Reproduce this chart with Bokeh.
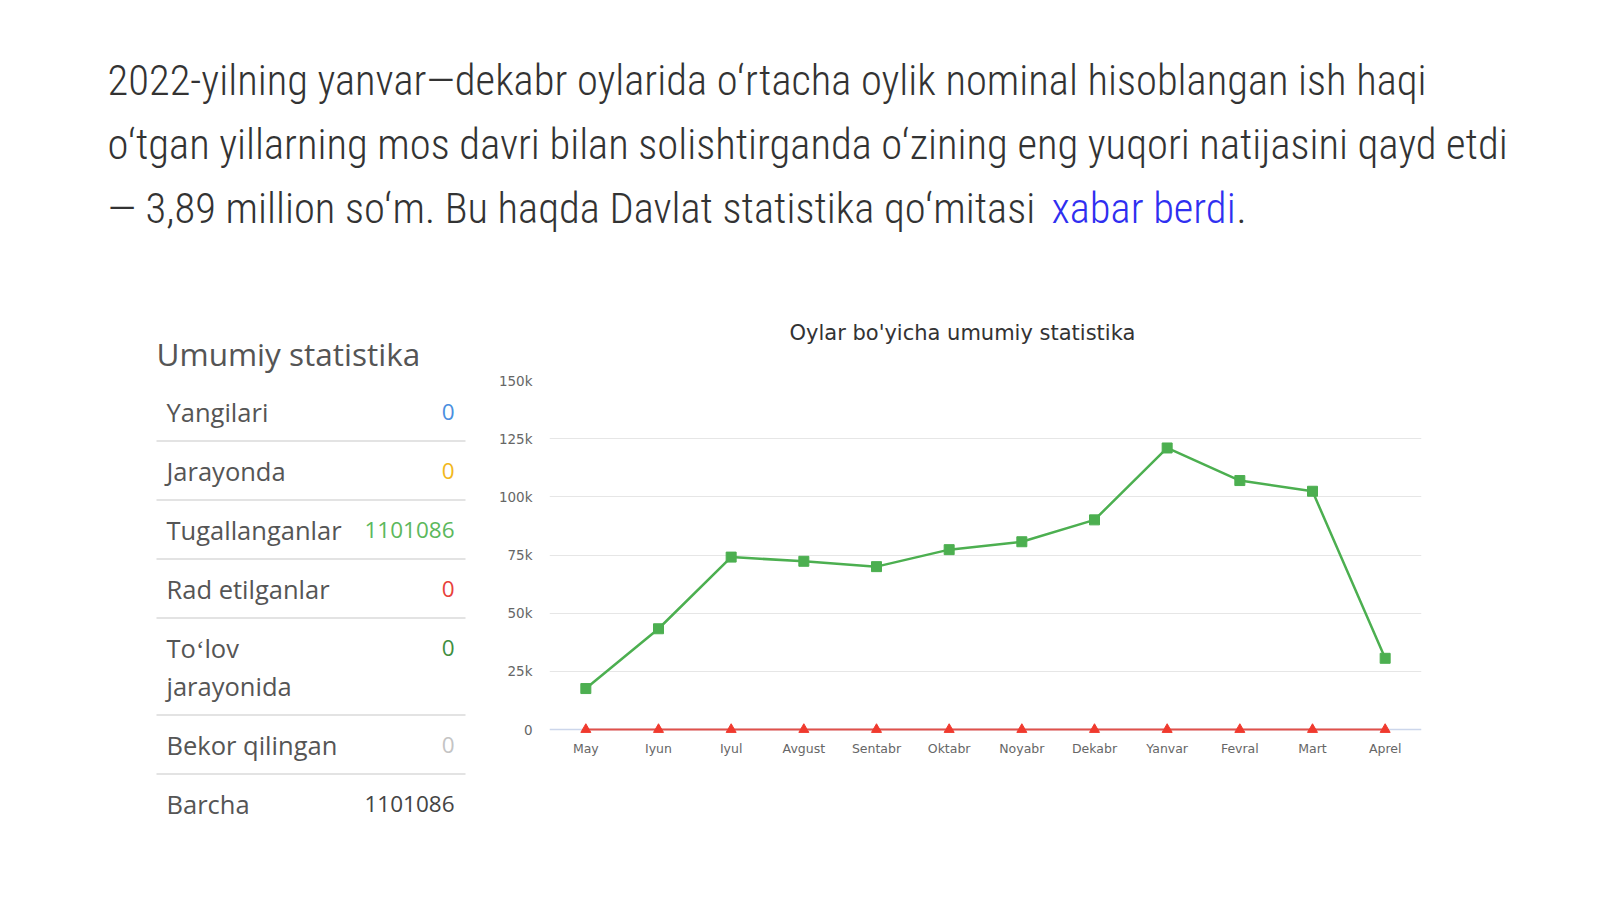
from bokeh.plotting import figure
from bokeh.layouts import column, row
from bokeh.models import Range1d, FixedTicker, ColumnDataSource, Span
from bokeh.core.properties import value
from bokeh.embed import file_html
from bokeh.resources import INLINE

# ---------------- data ----------------
months = ["May", "Iyun", "Iyul", "Avgust", "Sentabr", "Oktabr", "Noyabr",
          "Dekabr", "Yanvar", "Fevral", "Mart", "Aprel"]
completed = [17600, 43300, 74100, 72300, 70000, 77300, 80700, 90100,
             121000, 107000, 102400, 30600]
rejected = [0, 0, 0, 0, 0, 0, 0, 0, 0, 0, 0, 0]
y_ticks = [0, 25000, 50000, 75000, 100000, 125000, 150000]
y_tick_labels = ["0", "25k", "50k", "75k", "100k", "125k", "150k"]
chart_title = "Oylar bo'yicha umumiy statistika"

stat_title = "Umumiy statistika"
stat_labels = ["Yangilari", "Jarayonda", "Tugallanganlar", "Rad etilganlar",
               "To\u02bblov\njarayonida", "Bekor qilingan", "Barcha"]
stat_values = ["0", "0", "1101086", "0", "0", "0", "1101086"]
stat_colors = ["#4a8fe0", "#f2b81c", "#5cb85c", "#e8413a", "#3f8f3f",
               "#c4c4c4", "#444444"]

para_lines = [
    "2022-yilning yanvar\u2014dekabr oylarida o\u02bbrtacha oylik nominal hisoblangan ish haqi",
    "o\u02bbtgan yillarning mos davri bilan solishtirganda o\u02bbzining eng yuqori natijasini qayd etdi",
    "\u2014 3,89 million so\u02bbm. Bu haqda Davlat statistika qo\u02bbmitasi",
]
para_link = "xabar berdi"

PARA_FONT = "Roboto Condensed Light, Roboto Condensed, Liberation Sans Narrow, Roboto"
TABLE_FONT = "Open Sans"
CHART_FONT = "DejaVu Sans"
PARA_SIZE = "42.6px"

# ---------------- top paragraph ----------------
W = 1600
TOP_H = 285
top = figure(width=W, height=TOP_H, x_range=Range1d(0, W),
             y_range=Range1d(TOP_H, 0), output_backend="svg",
             toolbar_location=None, min_border=0)
top.axis.visible = False
top.grid.visible = False
top.outline_line_color = None
ys = [79 + 64 * i for i in range(len(para_lines))]
top.text(x=[107] * len(para_lines), y=ys, text=para_lines,
         text_font=value(PARA_FONT), text_font_size=PARA_SIZE,
         text_color="#333333", text_baseline="middle", text_align="left")
top.text(x=[1051], y=[ys[2]], text=[para_link],
         text_font=value(PARA_FONT), text_font_size=PARA_SIZE,
         text_color="#2f2ff0", text_baseline="middle", text_align="left")
top.text(x=[1051 + 185], y=[ys[2]], text=["."],
         text_font=value(PARA_FONT), text_font_size=PARA_SIZE,
         text_color="#333333", text_baseline="middle", text_align="left")

# ---------------- stats table ----------------
BOT_H = 899 - TOP_H
TAB_W = 488
tab = figure(width=TAB_W, height=BOT_H, x_range=Range1d(0, TAB_W),
             y_range=Range1d(BOT_H, 0), output_backend="svg",
             toolbar_location=None, min_border=0)
tab.axis.visible = False
tab.grid.visible = False
tab.outline_line_color = None
tab.text(x=[156], y=[68], text=[stat_title], text_font=value(TABLE_FONT),
         text_font_size="31.5px", text_color="#555555",
         text_baseline="middle", text_align="left")

pitch, extra = 59, 38
top_y = 96.5
lab_y, val_y, seps, lab_text = [], [], [], []
for i, lab in enumerate(stat_labels):
    parts = lab.split("\n")
    h = pitch + extra * (len(parts) - 1)
    for j, part in enumerate(parts):
        lab_text.append(part)
        lab_y.append(top_y + pitch / 2 + extra * j)
    val_y.append(top_y + pitch / 2)
    top_y += h
    if i < len(stat_labels) - 1:
        seps.append(top_y)

tab.text(x=[166] * len(lab_text), y=lab_y, text=lab_text,
         text_font=value(TABLE_FONT), text_font_size="25.5px",
         text_color="#555555", text_baseline="middle", text_align="left")
tab.text(x=[454] * len(stat_values), y=val_y, text=stat_values,
         text_color=stat_colors, text_font=value(TABLE_FONT),
         text_font_size="22.5px", text_baseline="middle", text_align="right")
tab.segment(x0=[156] * len(seps), x1=[465] * len(seps), y0=seps, y1=seps,
            line_color="#e3e3e3", line_width=2)

# ---------------- chart ----------------
CH_W = W - TAB_W
p = figure(width=CH_W, height=BOT_H, x_range=months,
           y_range=Range1d(-1715, 150000), output_backend="svg",
           toolbar_location=None, min_border_left=61, min_border_right=179,
           min_border_top=94, min_border_bottom=166)
p.outline_line_color = None
p.title.text = chart_title
p.title.align = "left"
p.title.offset = 240
p.title.text_font = CHART_FONT
p.title.text_font_size = "21px"
p.title.text_font_style = "normal"
p.title.text_color = "#333333"
p.title.vertical_align = "middle"
p.title.standoff = 69

p.yaxis.ticker = FixedTicker(ticks=y_ticks)
p.yaxis.major_label_overrides = dict(zip(y_ticks, y_tick_labels))
p.yaxis.axis_line_color = None
p.yaxis.major_tick_line_color = None
p.yaxis.minor_tick_line_color = None
p.yaxis.major_tick_out = 0
p.yaxis.major_label_standoff = 17
p.yaxis.major_label_text_font = CHART_FONT
p.yaxis.major_label_text_font_size = "13.5px"
p.yaxis.major_label_text_color = "#666666"

p.xaxis.axis_line_color = None
p.xaxis.major_tick_line_color = None
p.xaxis.minor_tick_line_color = None
p.xaxis.major_tick_out = 0
p.xaxis.major_label_standoff = 7
p.xaxis.major_label_text_font = CHART_FONT
p.xaxis.major_label_text_font_size = "12.5px"
p.xaxis.major_label_text_color = "#666666"

p.xgrid.grid_line_color = None
p.ygrid.ticker = FixedTicker(ticks=y_ticks[1:-1])
p.ygrid.grid_line_color = "#e6e6e6"
p.ygrid.grid_line_width = 1

# baseline of the category axis, drawn at zero under the series
p.add_layout(Span(location=0, dimension="width", line_color="#ccd6eb",
                  line_width=1.5, level="underlay"))

src = ColumnDataSource(dict(m=months, c=completed, r=rejected))
p.line("m", "c", source=src, line_color="#4caf50", line_width=2.5)
p.scatter("m", "c", source=src, marker="square", size=10,
          fill_color="#4caf50", line_color="#4caf50")
p.line("m", "r", source=src, line_color="#e0514a", line_width=2)
p.scatter("m", "r", source=src, marker="triangle", size=10,
          fill_color="#f03a2e", line_color="#f03a2e")

layout = column(top, row(column(tab), p))
open("out.html", "w").write(file_html(layout, INLINE))
